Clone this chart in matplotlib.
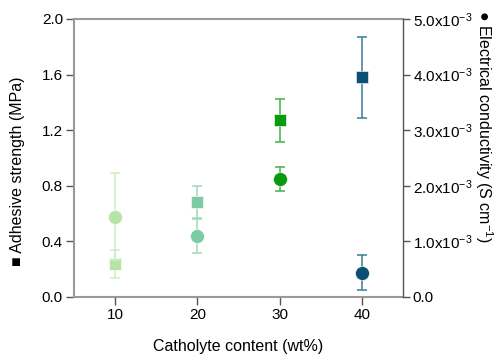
import matplotlib
matplotlib.use("Agg")
import matplotlib.pyplot as plt
from matplotlib.ticker import FixedLocator, FixedFormatter

plt.rcParams['font.family'] = ['Liberation Sans', 'DejaVu Sans']
plt.rcParams['mathtext.fontset'] = 'custom'
plt.rcParams['mathtext.rm'] = 'Liberation Sans'
plt.rcParams['mathtext.it'] = 'Liberation Sans:italic'

# data
content = [10, 20, 30, 40]
adhesive = [0.24, 0.68, 1.27, 1.58]
adhesive_err = [0.10, 0.12, 0.155, 0.29]
conductivity = [1.445e-3, 1.10e-3, 2.12e-3, 0.437e-3]
conductivity_err = [0.78e-3, 0.315e-3, 0.215e-3, 0.31e-3]
colors = ['#b5e4a6', '#7dcba5', '#0a9a10', '#0b4f72']
err_colors = ['#cdeec2', '#9cd9bb', '#3fb34a', '#3b7b98']

left_ticks = [0.0, 0.4, 0.8, 1.2, 1.6, 2.0]
right_ticks = [0, 1e-3, 2e-3, 3e-3, 4e-3, 5e-3]
right_labels = ['0.0', '1.0x10$^{-3}$', '2.0x10$^{-3}$', '3.0x10$^{-3}$',
                '4.0x10$^{-3}$', '5.0x10$^{-3}$']

fig = plt.figure(figsize=(4.95, 3.54), dpi=100)
ax = fig.add_axes([74/495, 1-297/354, (403-74)/495, (297-19)/354])
ax2 = ax.twinx()

for i in range(len(content)):
    ax.errorbar(content[i], adhesive[i], yerr=adhesive_err[i], fmt='none',
                ecolor=err_colors[i], elinewidth=1.1, capsize=3.5, capthick=1.1, zorder=2)
    ax.plot(content[i], adhesive[i], 's', ms=9, color=colors[i],
            mec='#ffffff', mew=0.4, zorder=3)
    ax2.errorbar(content[i], conductivity[i], yerr=conductivity_err[i], fmt='none',
                 ecolor=err_colors[i], elinewidth=1.1, capsize=3.5, capthick=1.1, zorder=2)
    ax2.plot(content[i], conductivity[i], 'o', ms=10, color=colors[i],
             mec='#ffffff', mew=0.4, zorder=3)

ax.set_xlim(5, 45)
ax.set_ylim(0, 2.0)
ax2.set_ylim(0, 5e-3)
ax.set_xticks(content)
ax.set_yticks(left_ticks)
ax.set_yticklabels(['%.1f' % t for t in left_ticks])
ax2.yaxis.set_major_locator(FixedLocator(right_ticks))
ax2.yaxis.set_major_formatter(FixedFormatter(right_labels))

for s in ['left', 'bottom', 'top']:
    ax.spines[s].set_color('#999999')
    ax.spines[s].set_linewidth(1.5)
ax.spines['right'].set_visible(False)
for s in ['left', 'bottom', 'top']:
    ax2.spines[s].set_visible(False)
ax2.spines['right'].set_color('#555555')
ax2.spines['right'].set_linewidth(1.0)

ax.tick_params(axis='both', direction='out', length=6, width=1.0, color='#555555',
               labelsize=11, pad=2)
ax2.tick_params(axis='y', direction='out', length=5, width=1.0, color='#555555',
                labelsize=11, pad=2)

ax.set_xlabel('Catholyte content (wt%)', fontsize=11.5, labelpad=12)
ax.set_ylabel('■ Adhesive strength (MPa)', fontsize=11.5)
ax.yaxis.set_label_coords(-0.15, 0.453)
ax2.set_ylabel('● Electrical conductivity (S cm$^{-1}$)', fontsize=11.5,
               rotation=270, va='center')
ax2.yaxis.set_label_coords(1.245, 0.615)

fig.savefig('out.png', dpi=100)
